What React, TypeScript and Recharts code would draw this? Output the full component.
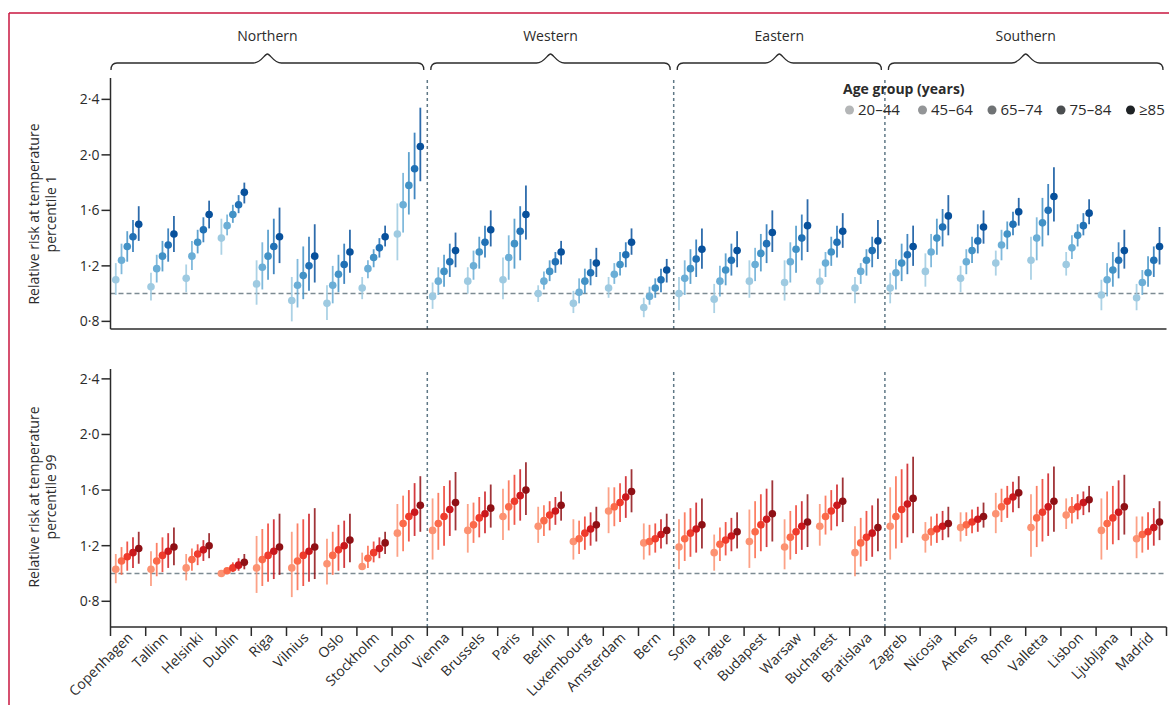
import React from "react";
import { ScatterChart, Scatter, XAxis, YAxis, ErrorBar, ReferenceLine } from "recharts";

const cities = [
  "Copenhagen", "Tallinn", "Helsinki", "Dublin", "Riga", "Vilnius", "Oslo", "Stockholm", "London",
  "Vienna", "Brussels", "Paris", "Berlin", "Luxembourg", "Amsterdam", "Bern",
  "Sofia", "Prague", "Budapest", "Warsaw", "Bucharest", "Bratislava",
  "Zagreb", "Nicosia", "Athens", "Rome", "Valletta", "Lisbon", "Ljubljana", "Madrid",
];
const regionNames = ["Northern", "Western", "Eastern", "Southern"];
const regionSizes = [9, 7, 6, 8];
const ageGroups = ["20–44", "45–64", "65–74", "75–84", "≥85"];
const yTicks = [0.8, 1.2, 1.6, 2.0, 2.4];

// percentile 1 (cold) - one row per city, one value per age group
const coldEst = [
  [1.10, 1.24, 1.34, 1.41, 1.50], [1.05, 1.18, 1.27, 1.35, 1.43], [1.11, 1.27, 1.37, 1.46, 1.57],
  [1.40, 1.49, 1.57, 1.64, 1.73], [1.07, 1.19, 1.27, 1.34, 1.41], [0.95, 1.06, 1.13, 1.20, 1.27],
  [0.93, 1.06, 1.14, 1.21, 1.30], [1.04, 1.18, 1.26, 1.33, 1.41], [1.43, 1.64, 1.78, 1.90, 2.06],
  [0.98, 1.09, 1.16, 1.23, 1.31], [1.09, 1.20, 1.30, 1.37, 1.46], [1.10, 1.26, 1.36, 1.45, 1.57],
  [1.00, 1.09, 1.16, 1.23, 1.30], [0.93, 1.01, 1.09, 1.15, 1.22], [1.04, 1.14, 1.21, 1.28, 1.37],
  [0.90, 0.98, 1.04, 1.10, 1.17], [1.00, 1.11, 1.18, 1.25, 1.32], [0.96, 1.09, 1.17, 1.24, 1.31],
  [1.09, 1.21, 1.29, 1.36, 1.44], [1.08, 1.23, 1.32, 1.40, 1.49], [1.09, 1.22, 1.30, 1.37, 1.45],
  [1.04, 1.16, 1.24, 1.31, 1.38], [1.04, 1.15, 1.22, 1.28, 1.34], [1.16, 1.30, 1.40, 1.48, 1.56],
  [1.11, 1.23, 1.31, 1.38, 1.48], [1.22, 1.35, 1.43, 1.50, 1.59], [1.24, 1.40, 1.51, 1.60, 1.70],
  [1.21, 1.33, 1.42, 1.49, 1.58], [0.99, 1.10, 1.17, 1.24, 1.31], [0.97, 1.08, 1.15, 1.24, 1.34],
];
const coldLo = [
  [0.99, 1.14, 1.23, 1.30, 1.38], [0.95, 1.08, 1.16, 1.23, 1.30], [1.01, 1.17, 1.29, 1.37, 1.47],
  [1.28, 1.42, 1.51, 1.58, 1.65], [0.92, 1.03, 1.10, 1.14, 1.22], [0.80, 0.90, 0.96, 1.02, 1.08],
  [0.81, 0.93, 1.01, 1.07, 1.15], [0.96, 1.11, 1.19, 1.26, 1.34], [1.24, 1.44, 1.57, 1.68, 1.81],
  [0.89, 0.99, 1.05, 1.12, 1.19], [1.00, 1.10, 1.18, 1.26, 1.34], [0.96, 1.10, 1.18, 1.24, 1.39],
  [0.94, 1.03, 1.09, 1.15, 1.21], [0.86, 0.93, 1.00, 1.06, 1.12], [0.97, 1.07, 1.13, 1.19, 1.28],
  [0.83, 0.92, 0.97, 1.01, 1.08], [0.88, 0.99, 1.07, 1.12, 1.18], [0.86, 0.98, 1.06, 1.13, 1.19],
  [0.97, 1.09, 1.16, 1.22, 1.30], [0.95, 1.08, 1.15, 1.24, 1.30], [1.00, 1.12, 1.20, 1.26, 1.33],
  [0.93, 1.07, 1.13, 1.19, 1.25], [0.93, 1.03, 1.09, 1.14, 1.20], [1.05, 1.19, 1.28, 1.34, 1.42],
  [1.01, 1.14, 1.22, 1.29, 1.36], [1.13, 1.24, 1.32, 1.42, 1.49], [1.10, 1.24, 1.34, 1.42, 1.52],
  [1.13, 1.25, 1.34, 1.42, 1.50], [0.88, 0.98, 1.05, 1.11, 1.18], [0.88, 0.99, 1.05, 1.12, 1.21],
];
const coldHi = [
  [1.22, 1.36, 1.45, 1.53, 1.63], [1.15, 1.28, 1.38, 1.47, 1.56], [1.21, 1.38, 1.46, 1.55, 1.67],
  [1.54, 1.57, 1.64, 1.71, 1.80], [1.24, 1.37, 1.46, 1.54, 1.62], [1.12, 1.25, 1.34, 1.41, 1.50],
  [1.06, 1.20, 1.28, 1.36, 1.46], [1.12, 1.24, 1.32, 1.40, 1.49], [1.65, 1.87, 2.02, 2.16, 2.34],
  [1.08, 1.19, 1.28, 1.36, 1.44], [1.19, 1.31, 1.41, 1.49, 1.60], [1.26, 1.42, 1.54, 1.63, 1.78],
  [1.06, 1.16, 1.24, 1.30, 1.38], [1.02, 1.11, 1.18, 1.25, 1.33], [1.12, 1.22, 1.30, 1.37, 1.47],
  [0.97, 1.05, 1.11, 1.18, 1.25], [1.12, 1.24, 1.32, 1.39, 1.47], [1.07, 1.20, 1.29, 1.36, 1.45],
  [1.24, 1.33, 1.43, 1.50, 1.60], [1.24, 1.37, 1.49, 1.57, 1.68], [1.18, 1.30, 1.41, 1.49, 1.58],
  [1.12, 1.22, 1.32, 1.41, 1.53], [1.15, 1.25, 1.36, 1.43, 1.49], [1.29, 1.43, 1.54, 1.61, 1.71],
  [1.20, 1.32, 1.41, 1.50, 1.60], [1.31, 1.46, 1.52, 1.59, 1.69], [1.41, 1.55, 1.69, 1.79, 1.91],
  [1.30, 1.42, 1.50, 1.58, 1.68], [1.10, 1.22, 1.30, 1.37, 1.46], [1.07, 1.17, 1.27, 1.34, 1.48],
];

// percentile 99 (heat)
const heatEst = [
  [1.03, 1.09, 1.12, 1.15, 1.18], [1.03, 1.09, 1.13, 1.16, 1.19], [1.04, 1.10, 1.14, 1.17, 1.20],
  [1.00, 1.02, 1.04, 1.06, 1.08], [1.04, 1.10, 1.13, 1.16, 1.19], [1.04, 1.09, 1.13, 1.16, 1.19],
  [1.07, 1.13, 1.17, 1.20, 1.24], [1.05, 1.11, 1.15, 1.18, 1.22], [1.29, 1.36, 1.41, 1.44, 1.49],
  [1.31, 1.36, 1.41, 1.46, 1.51], [1.31, 1.35, 1.40, 1.43, 1.47], [1.41, 1.48, 1.52, 1.56, 1.60],
  [1.34, 1.38, 1.42, 1.45, 1.49], [1.23, 1.25, 1.29, 1.32, 1.35], [1.45, 1.48, 1.51, 1.55, 1.59],
  [1.22, 1.23, 1.25, 1.28, 1.31], [1.19, 1.25, 1.29, 1.32, 1.35], [1.15, 1.21, 1.24, 1.27, 1.30],
  [1.23, 1.30, 1.35, 1.39, 1.43], [1.19, 1.26, 1.30, 1.34, 1.37], [1.34, 1.41, 1.45, 1.49, 1.52],
  [1.15, 1.22, 1.26, 1.29, 1.33], [1.34, 1.41, 1.46, 1.50, 1.54], [1.26, 1.30, 1.32, 1.34, 1.36],
  [1.33, 1.35, 1.37, 1.39, 1.41], [1.43, 1.48, 1.52, 1.55, 1.58], [1.33, 1.40, 1.44, 1.48, 1.52],
  [1.42, 1.46, 1.48, 1.51, 1.53], [1.31, 1.36, 1.40, 1.44, 1.48], [1.25, 1.28, 1.30, 1.33, 1.37],
];
const heatLo = [
  [0.93, 0.99, 1.02, 1.04, 1.07], [0.91, 0.98, 1.01, 1.04, 1.06], [0.95, 1.02, 1.06, 1.09, 1.11],
  [0.99, 1.00, 1.01, 1.02, 1.03], [0.86, 0.91, 0.94, 0.96, 0.99], [0.83, 0.88, 0.91, 0.94, 0.96],
  [0.92, 0.99, 1.02, 1.04, 1.08], [1.03, 1.04, 1.08, 1.11, 1.14], [1.12, 1.16, 1.23, 1.27, 1.30],
  [1.10, 1.17, 1.20, 1.27, 1.31], [1.15, 1.22, 1.26, 1.29, 1.33], [1.24, 1.31, 1.35, 1.38, 1.42],
  [1.22, 1.27, 1.31, 1.35, 1.38], [1.10, 1.14, 1.17, 1.20, 1.23], [1.29, 1.34, 1.37, 1.40, 1.44],
  [1.10, 1.13, 1.15, 1.18, 1.21], [1.03, 1.09, 1.12, 1.15, 1.18], [1.02, 1.09, 1.13, 1.16, 1.18],
  [1.04, 1.11, 1.16, 1.19, 1.23], [1.03, 1.10, 1.14, 1.17, 1.19], [1.20, 1.28, 1.31, 1.34, 1.37],
  [0.98, 1.05, 1.09, 1.12, 1.16], [1.10, 1.18, 1.22, 1.26, 1.29], [1.15, 1.20, 1.22, 1.24, 1.26],
  [1.23, 1.27, 1.29, 1.30, 1.33], [1.29, 1.37, 1.40, 1.44, 1.47], [1.12, 1.19, 1.23, 1.27, 1.30],
  [1.32, 1.36, 1.39, 1.42, 1.44], [1.10, 1.17, 1.21, 1.24, 1.28], [1.11, 1.15, 1.17, 1.20, 1.24],
];
const heatHi = [
  [1.14, 1.19, 1.23, 1.26, 1.30], [1.16, 1.22, 1.26, 1.29, 1.33], [1.14, 1.18, 1.21, 1.24, 1.29],
  [1.01, 1.04, 1.08, 1.11, 1.14], [1.27, 1.32, 1.36, 1.39, 1.43], [1.30, 1.36, 1.39, 1.43, 1.47],
  [1.25, 1.30, 1.35, 1.38, 1.43], [1.15, 1.20, 1.23, 1.26, 1.30], [1.50, 1.56, 1.60, 1.65, 1.70],
  [1.54, 1.58, 1.63, 1.67, 1.73], [1.50, 1.51, 1.55, 1.59, 1.64], [1.61, 1.67, 1.71, 1.75, 1.80],
  [1.48, 1.49, 1.52, 1.55, 1.59], [1.39, 1.38, 1.41, 1.44, 1.48], [1.62, 1.62, 1.65, 1.70, 1.75],
  [1.36, 1.35, 1.36, 1.39, 1.43], [1.39, 1.44, 1.47, 1.51, 1.54], [1.28, 1.33, 1.37, 1.40, 1.44],
  [1.46, 1.52, 1.57, 1.61, 1.67], [1.39, 1.45, 1.49, 1.52, 1.57], [1.50, 1.56, 1.60, 1.64, 1.69],
  [1.34, 1.40, 1.45, 1.49, 1.54], [1.62, 1.70, 1.75, 1.79, 1.84], [1.37, 1.41, 1.43, 1.45, 1.48],
  [1.44, 1.44, 1.46, 1.48, 1.51], [1.58, 1.61, 1.63, 1.66, 1.70], [1.57, 1.63, 1.68, 1.72, 1.77],
  [1.54, 1.55, 1.57, 1.59, 1.63], [1.54, 1.59, 1.63, 1.67, 1.71], [1.41, 1.41, 1.44, 1.47, 1.52],
];

const blues = ["#9ecae1", "#6baed6", "#4292c6", "#2171b5", "#08519c"];
const reds = ["#fc9272", "#fb6a4a", "#ef3b2c", "#cb181d", "#8f1015"];
const greys = ["#b4b6b7", "#939597", "#6f7274", "#4b4e50", "#1e2225"];

const W = 1169;
const PLOT_L = 110.5;
const PLOT_R = 1166.5;
const BAND = (PLOT_R - PLOT_L) / cities.length;
const OFFSETS = [0.15, 0.313, 0.476, 0.639, 0.802];
const INK = "#2b2b2b";
const FONT = '"Open Sans", "Noto Sans", sans-serif';

const xTicks = cities.map((_, i) => i).concat([cities.length]);
const boundaries = regionSizes.reduce<number[]>((acc, n) => acc.concat([(acc[acc.length - 1] ?? 0) + n]), []);
const separators = boundaries.slice(0, -1);

function series(est: number[][], lo: number[][], hi: number[][], g: number) {
  return cities.map((city, i) => ({
    city,
    x: i + OFFSETS[g],
    y: est[i][g],
    err: [Math.max(0, est[i][g] - lo[i][g]), Math.max(0, hi[i][g] - est[i][g])],
  }));
}

const fmt = (v: number) => v.toFixed(1).replace(".", "·");

function CityTick(props: any) {
  const { x, y, payload } = props;
  const i = payload.value;
  if (i >= cities.length) return null;
  const ax = x + BAND / 2 + 2;
  const ay = y - 3;
  return (
    <text
      x={ax}
      y={ay}
      dy="0.35em"
      textAnchor="end"
      transform={`rotate(-45 ${ax} ${ay})`}
      fill={INK}
      fontSize={14}
    >
      {cities[i]}
    </text>
  );
}

type PanelProps = {
  top: number;
  height: number;
  marginTop: number;
  xAxisHeight: number;
  domain: [number, number];
  est: number[][];
  lo: number[][];
  hi: number[][];
  colors: string[];
  labels: boolean;
};

function Panel({ top, height, marginTop, xAxisHeight, domain, est, lo, hi, colors, labels }: PanelProps) {
  return (
    <div style={{ position: "absolute", left: 0, top, width: W, height }}>
      <ScatterChart
        width={W}
        height={height}
        margin={{ top: marginTop, right: W - PLOT_R, bottom: 0, left: PLOT_L - 40 }}
      >
        <XAxis
          type="number"
          dataKey="x"
          domain={[0, cities.length]}
          ticks={xTicks}
          interval={0}
          allowDataOverflow
          height={xAxisHeight}
          tickSize={9}
          axisLine={{ stroke: INK, strokeWidth: 1.5 }}
          tickLine={{ stroke: INK, strokeWidth: 1.5 }}
          tick={labels ? (p: any) => <CityTick {...p} /> : false}
        />
        <YAxis
          type="number"
          dataKey="y"
          domain={domain}
          allowDataOverflow
          ticks={yTicks}
          width={40}
          tickSize={9}
          tickFormatter={fmt}
          axisLine={{ stroke: INK, strokeWidth: 1.5 }}
          tickLine={{ stroke: INK, strokeWidth: 1.5 }}
          tick={{ fill: INK, fontSize: 14 }}
        />
        <ReferenceLine y={1} stroke="#7d8b93" strokeWidth={1.5} strokeDasharray="5 3" />
        {separators.map((b) => (
          <ReferenceLine key={b} x={b} stroke="#5f7886" strokeWidth={1.5} strokeDasharray="3 3" />
        ))}
        {colors.map((c, g) => (
          <Scatter
            key={ageGroups[g]}
            name={ageGroups[g]}
            data={series(est, lo, hi, g)}
            fill={c}
            isAnimationActive={false}
            shape={(p: any) => <circle cx={p.cx} cy={p.cy} r={3.8} fill={c} />}
          >
            <ErrorBar
              dataKey="err"
              direction="y"
              width={0}
              stroke={c}
              strokeWidth={1.8}
              strokeOpacity={0.85}
              isAnimationActive={false}
            />
          </Scatter>
        ))}
      </ScatterChart>
    </div>
  );
}

function bracePath(x0: number, x1: number, yl: number, yp: number, ye: number) {
  const m = (x0 + x1) / 2;
  return `M${x0},${ye} Q${x0},${yl} ${x0 + 6},${yl} L${m - 14},${yl} C${m - 6},${yl} ${m - 3},${yp} ${m},${yp} C${m + 3},${yp} ${m + 6},${yl} ${m + 14},${yl} L${x1 - 6},${yl} Q${x1},${yl} ${x1},${ye}`;
}

function Overlay() {
  const legendX = [849.5, 922.5, 992, 1061, 1130.5];
  return (
    <svg width={W} height={705} style={{ position: "absolute", left: 0, top: 0, pointerEvents: "none" }}>
      <line x1={9} y1={13} x2={W} y2={13} stroke="#c8163f" strokeWidth={1.5} />
      <line x1={9} y1={13} x2={9} y2={705} stroke="#c8163f" strokeWidth={1.5} />
      {regionNames.map((name, r) => {
        const start = r === 0 ? 0 : boundaries[r - 1];
        const end = boundaries[r];
        const x0 = PLOT_L + start * BAND + (r === 0 ? 0.5 : 3.5);
        const x1 = PLOT_L + end * BAND - 3.5;
        return (
          <g key={name}>
            <path d={bracePath(x0, x1, 63, 54, 70)} fill="none" stroke={INK} strokeWidth={1.3} />
            <text x={(x0 + x1) / 2} y={36} dy="0.35em" textAnchor="middle" fontSize={14} fill={INK}>
              {name}
            </text>
          </g>
        );
      })}
      <text x={843} y={89} dy="0.35em" fontSize={14} fontWeight="bold" fill={INK}>
        Age group (years)
      </text>
      {ageGroups.map((a, g) => (
        <g key={a}>
          <circle cx={legendX[g]} cy={110} r={4.5} fill={greys[g]} />
          <text x={legendX[g] + 8.5} y={110} dy="0.35em" fontSize={15} fill={INK}>
            {a}
          </text>
        </g>
      ))}
      {[
        { y: 214, l2: "percentile 1" },
        { y: 497, l2: "percentile 99" },
      ].map((t) => (
        <g key={t.l2}>
          <text transform={`translate(34 ${t.y}) rotate(-90)`} dy="0.35em" textAnchor="middle" fontSize={14} fill={INK}>
            Relative risk at temperature
          </text>
          <text transform={`translate(51 ${t.y}) rotate(-90)`} dy="0.35em" textAnchor="middle" fontSize={14} fill={INK}>
            {t.l2}
          </text>
        </g>
      ))}
    </svg>
  );
}

export default function App() {
  return (
    <div style={{ position: "absolute", left: 0, top: 0, width: W, height: 705, background: "#fff", fontFamily: FONT, overflow: "hidden" }}>
      <Panel
        top={70}
        height={275}
        marginTop={8}
        xAxisHeight={16}
        domain={[0.745, 2.554]}
        est={coldEst}
        lo={coldLo}
        hi={coldHi}
        colors={blues}
        labels={false}
      />
      <Panel
        top={360}
        height={342}
        marginTop={9}
        xAxisHeight={75}
        domain={[0.615, 2.471]}
        est={heatEst}
        lo={heatLo}
        hi={heatHi}
        colors={reds}
        labels
      />
      <Overlay />
    </div>
  );
}
